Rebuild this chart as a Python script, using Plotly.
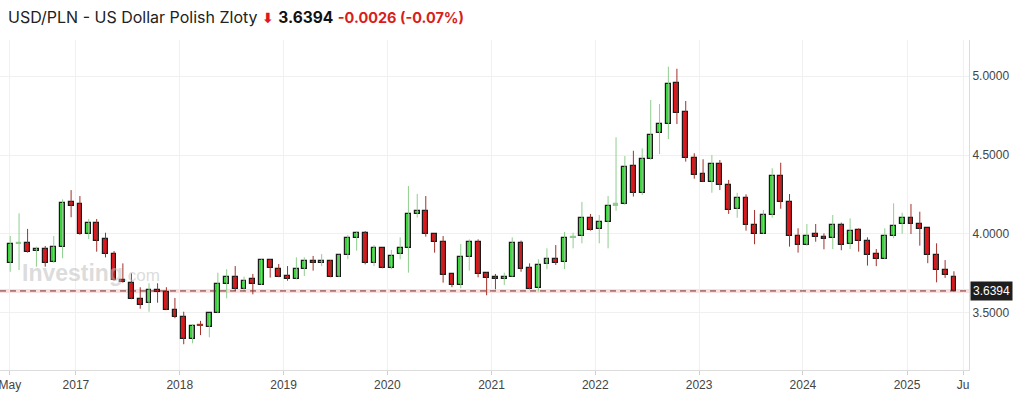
import pandas as pd
import plotly.graph_objects as go

# Monthly candles, May 2016 .. Jun 2025
months = pd.period_range("2016-05", "2025-06", freq="M")

open_ = [
    3.818, 3.937, 3.945, 3.890, 3.905, 3.821, 3.916, 4.200,
    4.188, 3.998, 4.068, 3.966, 3.871, 3.709, 3.692, 3.589, 3.561, 3.646, 3.631, 3.522,
    3.475, 3.333, 3.422, 3.413, 3.498, 3.682, 3.730, 3.650, 3.713, 3.677, 3.835, 3.780,
    3.735, 3.713, 3.777, 3.829, 3.814, 3.829, 3.726, 3.865, 3.975, 4.004, 3.814, 3.909,
    3.787, 3.871, 3.909, 4.125, 4.144, 3.998, 3.947, 3.745, 3.675, 3.857, 3.947, 3.751,
    3.726, 3.717, 3.730, 3.941, 3.783, 3.656, 3.808, 3.840, 3.821, 3.975, 3.987, 4.099,
    4.030, 4.074, 4.180, 4.190, 4.430, 4.260, 4.473, 4.637, 4.696, 4.954, 4.770, 4.479,
    4.378, 4.327, 4.441, 4.308, 4.158, 4.226, 4.055, 4.000, 4.118, 4.367, 4.204, 3.989,
    3.930, 3.998, 3.983, 3.973, 4.055, 3.935, 4.023, 3.956, 3.871, 3.840, 3.989, 4.063,
    4.104, 4.061, 4.036, 3.865, 3.770, 3.730,
]
high = [
    3.987, 4.131, 4.032, 3.920, 3.924, 3.987, 4.219, 4.278,
    4.240, 4.095, 4.095, 4.008, 3.892, 3.814, 3.751, 3.663, 3.688, 3.688, 3.663, 3.595,
    3.508, 3.430, 3.450, 3.500, 3.755, 3.777, 3.797, 3.730, 3.747, 3.840, 3.840, 3.810,
    3.797, 3.852, 3.852, 3.861, 3.873, 3.835, 3.869, 3.994, 4.019, 4.019, 3.930, 3.912,
    3.899, 3.979, 4.304, 4.253, 4.240, 4.002, 3.987, 3.747, 3.937, 3.966, 3.966, 3.755,
    3.747, 3.755, 3.979, 3.958, 3.814, 3.840, 3.909, 3.930, 4.013, 4.008, 4.203, 4.127,
    4.120, 4.241, 4.612, 4.494, 4.527, 4.542, 4.848, 4.823, 5.059, 5.046, 4.842, 4.511,
    4.473, 4.500, 4.468, 4.342, 4.261, 4.251, 4.152, 4.152, 4.416, 4.451, 4.253, 4.036,
    4.063, 4.063, 4.004, 4.120, 4.072, 4.099, 4.036, 3.979, 3.905, 4.036, 4.194, 4.135,
    4.190, 4.141, 4.036, 3.941, 3.835, 3.764,
]
low = [
    3.761, 3.772, 3.882, 3.793, 3.793, 3.818, 3.846, 4.106,
    3.995, 3.968, 3.888, 3.852, 3.704, 3.692, 3.587, 3.527, 3.508, 3.565, 3.518, 3.467,
    3.302, 3.308, 3.360, 3.346, 3.498, 3.593, 3.639, 3.635, 3.618, 3.677, 3.724, 3.726,
    3.704, 3.713, 3.734, 3.768, 3.797, 3.726, 3.726, 3.840, 3.894, 3.808, 3.797, 3.783,
    3.777, 3.840, 3.755, 4.104, 3.983, 3.882, 3.692, 3.663, 3.656, 3.768, 3.726, 3.612,
    3.650, 3.677, 3.730, 3.761, 3.650, 3.635, 3.777, 3.804, 3.778, 3.909, 3.941, 4.021,
    3.941, 3.909, 4.147, 4.185, 4.237, 4.247, 4.470, 4.506, 4.601, 4.696, 4.458, 4.350,
    4.329, 4.261, 4.278, 4.127, 4.103, 4.021, 3.935, 4.000, 4.103, 4.160, 3.920, 3.882,
    3.926, 3.951, 3.903, 3.905, 3.897, 3.905, 3.888, 3.800, 3.796, 3.840, 3.973, 4.001,
    4.000, 3.926, 3.815, 3.694, 3.722, 3.636,
]
close = [
    3.937, 3.945, 3.888, 3.905, 3.815, 3.916, 4.194, 4.177,
    3.998, 4.068, 3.958, 3.871, 3.709, 3.696, 3.589, 3.553, 3.646, 3.631, 3.522, 3.475,
    3.333, 3.418, 3.418, 3.498, 3.682, 3.730, 3.650, 3.703, 3.682, 3.835, 3.783, 3.730,
    3.713, 3.777, 3.829, 3.814, 3.829, 3.726, 3.865, 3.973, 4.004, 3.814, 3.909, 3.787,
    3.863, 3.909, 4.127, 4.144, 3.998, 3.947, 3.741, 3.675, 3.857, 3.947, 3.745, 3.719,
    3.713, 3.730, 3.941, 3.781, 3.650, 3.802, 3.840, 3.819, 3.973, 3.980, 4.101, 4.025,
    4.074, 4.177, 4.190, 4.422, 4.258, 4.473, 4.625, 4.696, 4.949, 4.764, 4.479, 4.371,
    4.329, 4.441, 4.308, 4.150, 4.226, 4.057, 4.000, 4.118, 4.367, 4.200, 3.989, 3.930,
    3.989, 3.983, 3.966, 4.055, 3.930, 4.019, 3.956, 3.865, 3.840, 3.989, 4.053, 4.104,
    4.061, 4.034, 3.865, 3.770, 3.738, 3.6394,
]

last_price = 3.6394
tick_dates = ["2016-05-14", "2017-01-01", "2018-01-01", "2019-01-01", "2020-01-01",
              "2021-01-01", "2022-01-01", "2023-01-01", "2024-01-01", "2025-01-01", "2025-07-17"]
tick_text = ["May", "2017", "2018", "2019", "2020", "2021", "2022", "2023", "2024", "2025", "Ju"]
y_ticks = [3.5, 4.0, 4.5, 5.0]

GREEN = "#3ad23a"
RED = "#e0161c"
GREEN_WICK = "#8fce8f"
RED_WICK = "#a3302a"

x = [p.to_timestamp() + pd.Timedelta(days=14) for p in months]

fig = go.Figure()

# wicks
for up, col in ((True, GREEN_WICK), (False, RED_WICK)):
    wx, wy = [], []
    for xi, o, h, l, c in zip(x, open_, high, low, close):
        if (c >= o) == up:
            wx += [xi, xi, None]
            wy += [l, h, None]
    fig.add_trace(go.Scatter(x=wx, y=wy, mode="lines", line=dict(color=col, width=1),
                             hoverinfo="skip", showlegend=False))

# bodies
base = [min(o, c) for o, c in zip(open_, close)]
height = [max(abs(c - o), 0.004) for o, c in zip(open_, close)]
fill = []
outline = []
for o, c in zip(open_, close):
    up = c >= o
    doji = abs(c - o) < 0.012
    if doji:
        col = GREEN_WICK if up else RED_WICK
        fill.append(col)
        outline.append(col)
    else:
        fill.append(GREEN if up else RED)
        outline.append("#1b1b1b")

fig.add_trace(go.Bar(x=x, y=height, base=base, width=17 * 86400000,
                     marker=dict(color=fill, line=dict(color=outline, width=1.2)),
                     showlegend=False, hoverinfo="skip"))

# current price line
fig.add_shape(type="line", xref="paper", x0=0, x1=1, y0=last_price, y1=last_price,
              line=dict(color="rgba(240,150,150,0.30)", width=4), layer="below")
fig.add_shape(type="line", xref="paper", x0=0, x1=1, y0=last_price, y1=last_price,
              line=dict(color="#6e2a2a", width=1, dash="6px,4px"), layer="above")

W, H = 1024, 397
ml, mr, mt, mb = 0, 55, 40, 27
pw, ph = W - ml - mr, H - mt - mb

fig.add_annotation(
    xref="paper", yref="paper", x=6 / pw, y=1 + (mt - 17) / ph, xanchor="left", yanchor="middle",
    showarrow=False, align="left",
    text=("<span style='color:#222'>USD/PLN - US Dollar Polish Zloty</span> "
          "<span style='color:#e0161c;font-family:DejaVu Sans;font-size:14px'><b>⬇</b></span> "
          "<b style='color:#111;font-size:15.5px'>3.6394</b> "
          "<b style='color:#d91e18;font-size:14.5px'>-0.0026 (-0.07%)</b>"),
    font=dict(family="Inter, Roboto, sans-serif", size=16, color="#222"),
)

# watermark
fig.add_annotation(
    xref="paper", yref="y", x=20 / pw, y=3.753, xanchor="left", yanchor="middle", showarrow=False,
    text="<b>Investing</b><span style='font-size:17px'>.com</span>",
    font=dict(family="Liberation Sans, Arial, sans-serif", size=23, color="rgba(190,190,190,0.55)"),
)

# price tag
fig.add_annotation(
    xref="paper", yref="y", x=1, y=last_price, xanchor="left", yanchor="middle", xshift=1,
    showarrow=False, text="3.6394", bgcolor="#1e1e1e", borderpad=2,
    font=dict(family="Liberation Sans, Arial, sans-serif", size=12, color="white"),
)

fig.update_layout(
    width=W, height=H, margin=dict(l=ml, r=mr, t=mt, b=mb),
    paper_bgcolor="white", plot_bgcolor="white", bargap=0,
    xaxis=dict(type="date", range=["2016-04-09", "2025-08-07"],
               tickvals=tick_dates, ticktext=tick_text, ticklabeloverflow="allow",
               showgrid=True, gridcolor="#f0f0f0", gridwidth=1,
               showline=True, linecolor="#dcdcdc", linewidth=1,
               ticks="outside", ticklen=4, tickcolor="#cfcfcf",
               tickfont=dict(family="Liberation Sans Narrow, Liberation Sans, Arial", size=12, color="#444"),
               zeroline=False, fixedrange=True),
    yaxis=dict(side="right", range=[3.139, 5.228], tickvals=y_ticks, tickformat=".4f",
               showgrid=True, gridcolor="#f0f0f0", gridwidth=1,
               showline=True, linecolor="#dcdcdc", linewidth=1, mirror=False,
               ticks="", tickfont=dict(family="Liberation Sans, Arial", size=12, color="#444"),
               zeroline=False, fixedrange=True),
    font=dict(family="Liberation Sans, Arial, sans-serif"),
)

fig.write_html("out.html", config={"displayModeBar": False},
               post_script="document.body.style.margin='0';document.body.style.overflow='hidden';")
